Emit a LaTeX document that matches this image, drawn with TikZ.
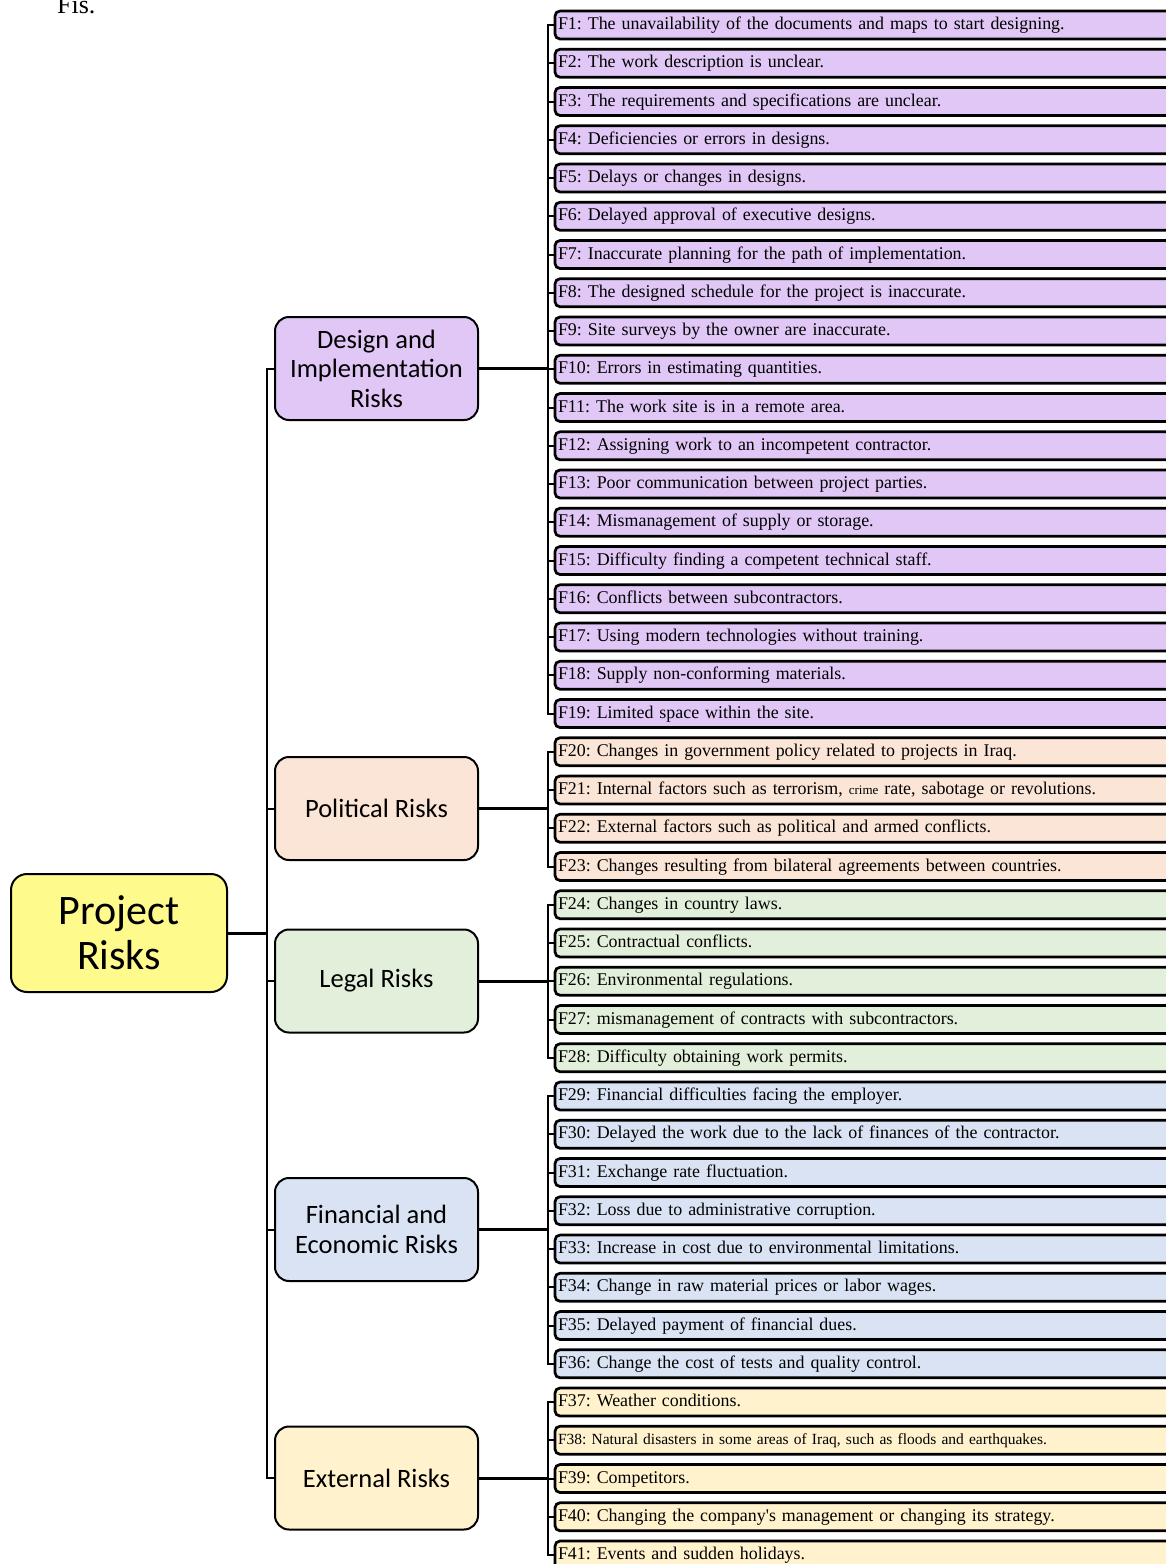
\documentclass[tikz,border=0pt]{standalone}
\usepackage{fontspec}
\setmainfont{Liberation Serif}
\newfontfamily\catfont{Carlito}
\usepackage{xcolor}
\usepackage{tikz}
\usetikzlibrary{positioning}
\definecolor{rootyellow}{RGB}{255,250,140}
\definecolor{designpurple}{RGB}{224,199,246}
\definecolor{politicalpeach}{RGB}{251,229,214}
\definecolor{legalgreen}{RGB}{226,239,218}
\definecolor{financeblue}{RGB}{218,227,243}
\definecolor{externalgold}{RGB}{255,242,204}
\tikzset{
  rootbox/.style={rectangle, draw, line width=2pt, rounded corners=16pt, fill=rootyellow, minimum width=216pt, minimum height=118pt, align=center, font=\catfont\fontsize{42}{45}\selectfont},
  groupbox/.style={rectangle, draw, line width=2pt, rounded corners=14pt, minimum width=203pt, minimum height=103pt, align=center, font=\catfont\fontsize{26.5}{29.5}\selectfont},
  leaf/.style={rectangle, draw, line width=2.7pt, rounded corners=5pt, text width=614pt, minimum height=28pt, inner xsep=3pt, inner ysep=0pt, outer sep=0pt, text height=13pt, text depth=4pt, align=left, font=\fontsize{17.9}{19}\selectfont},
  bus/.style={line width=2pt},
  link/.style={line width=3pt},
}

\begin{document}
\frenchspacing
\begin{tikzpicture}[x=1pt, y=-1pt]
    \useasboundingbox (0,0) rectangle (1165,1564);
    \node[anchor=base west, inner sep=0pt, font=\fontsize{26}{26}\selectfont] (fis) at (57,13) {Fis.};

    \node[rootbox] (root) at (119,933) {Project\\Risks};
    \node[groupbox, fill=designpurple] (design) at (376.5,368.5) {Design and\\Implementation\\Risks};
    \node[groupbox, fill=politicalpeach] (political) at (376.5,808.5) {Political Risks};
    \node[groupbox, fill=legalgreen] (legal) at (376.5,981) {Legal Risks};
    \node[groupbox, fill=financeblue] (financial) at (376.5,1229.5) {Financial and\\Economic Risks};
    \node[groupbox, fill=externalgold] (external) at (376.5,1478) {External Risks};

    \node[leaf, fill=designpurple, anchor=west] (f1) at (555,25) {F1: The unavailability of the documents and maps to start designing.};
    \node[leaf, fill=designpurple, below=10.25pt of f1] (f2) {F2: The work description is unclear.};
    \node[leaf, fill=designpurple, below=10.25pt of f2] (f3) {F3: The requirements and specifications are unclear.};
    \node[leaf, fill=designpurple, below=10.25pt of f3] (f4) {F4: Deficiencies or errors in designs.};
    \node[leaf, fill=designpurple, below=10.25pt of f4] (f5) {F5: Delays or changes in designs.};
    \node[leaf, fill=designpurple, below=10.25pt of f5] (f6) {F6: Delayed approval of executive designs.};
    \node[leaf, fill=designpurple, below=10.25pt of f6] (f7) {F7: Inaccurate planning for the path of implementation.};
    \node[leaf, fill=designpurple, below=10.25pt of f7] (f8) {F8: The designed schedule for the project is inaccurate.};
    \node[leaf, fill=designpurple, below=10.25pt of f8] (f9) {F9: Site surveys by the owner are inaccurate.};
    \node[leaf, fill=designpurple, below=10.25pt of f9] (f10) {F10: Errors in estimating quantities.};
    \node[leaf, fill=designpurple, below=10.25pt of f10] (f11) {F11: The work site is in a remote area.};
    \node[leaf, fill=designpurple, below=10.25pt of f11] (f12) {F12: Assigning work to an incompetent contractor.};
    \node[leaf, fill=designpurple, below=10.25pt of f12] (f13) {F13: Poor communication between project parties.};
    \node[leaf, fill=designpurple, below=10.25pt of f13] (f14) {F14: Mismanagement of supply or storage.};
    \node[leaf, fill=designpurple, below=10.25pt of f14] (f15) {F15: Difficulty finding a competent technical staff.};
    \node[leaf, fill=designpurple, below=10.25pt of f15] (f16) {F16: Conflicts between subcontractors.};
    \node[leaf, fill=designpurple, below=10.25pt of f16] (f17) {F17: Using modern technologies without training.};
    \node[leaf, fill=designpurple, below=10.25pt of f17] (f18) {F18: Supply non-conforming materials.};
    \node[leaf, fill=designpurple, below=10.25pt of f18] (f19) {F19: Limited space within the site.};

    \node[leaf, fill=politicalpeach, below=10.25pt of f19] (f20) {F20: Changes in government policy related to projects in Iraq.};
    \node[leaf, fill=politicalpeach, below=10.25pt of f20] (f21) {F21: Internal factors such as terrorism, {\fontsize{13}{13}\selectfont crime} rate, sabotage or revolutions.};
    \node[leaf, fill=politicalpeach, below=10.25pt of f21] (f22) {F22: External factors such as political and armed conflicts.};
    \node[leaf, fill=politicalpeach, below=10.25pt of f22] (f23) {F23: Changes resulting from bilateral agreements between countries.};

    \node[leaf, fill=legalgreen, below=10.25pt of f23] (f24) {F24: Changes in country laws.};
    \node[leaf, fill=legalgreen, below=10.25pt of f24] (f25) {F25: Contractual conflicts.};
    \node[leaf, fill=legalgreen, below=10.25pt of f25] (f26) {F26: Environmental regulations.};
    \node[leaf, fill=legalgreen, below=10.25pt of f26] (f27) {F27: mismanagement of contracts with subcontractors.};
    \node[leaf, fill=legalgreen, below=10.25pt of f27] (f28) {F28: Difficulty obtaining work permits.};

    \node[leaf, fill=financeblue, below=10.25pt of f28] (f29) {F29: Financial difficulties facing the employer.};
    \node[leaf, fill=financeblue, below=10.25pt of f29] (f30) {F30: Delayed the work due to the lack of finances of the contractor.};
    \node[leaf, fill=financeblue, below=10.25pt of f30] (f31) {F31: Exchange rate fluctuation.};
    \node[leaf, fill=financeblue, below=10.25pt of f31] (f32) {F32: Loss due to administrative corruption.};
    \node[leaf, fill=financeblue, below=10.25pt of f32] (f33) {F33: Increase in cost due to environmental limitations.};
    \node[leaf, fill=financeblue, below=10.25pt of f33] (f34) {F34: Change in raw material prices or labor wages.};
    \node[leaf, fill=financeblue, below=10.25pt of f34] (f35) {F35: Delayed payment of financial dues.};
    \node[leaf, fill=financeblue, below=10.25pt of f35] (f36) {F36: Change the cost of tests and quality control.};

    \node[leaf, fill=externalgold, below=10.25pt of f36] (f37) {F37: Weather conditions.};
    \node[leaf, fill=externalgold, below=10.25pt of f37, font=\fontsize{15.5}{17}\selectfont] (f38) {F38: Natural disasters in some areas of Iraq, such as floods and earthquakes.};
    \node[leaf, fill=externalgold, below=10.25pt of f38] (f39) {F39: Competitors.};
    \node[leaf, fill=externalgold, below=10.25pt of f39] (f40) {F40: Changing the company\textquotesingle s management or changing its strategy.};
    \node[leaf, fill=externalgold, below=10.25pt of f40] (f41) {F41: Events and sudden holidays.};

    \coordinate (rootbus) at (267,933);
    \draw[link] (root.east) -- (rootbus);
    \draw[bus] (design.west) -| (rootbus) |- (external.west);
    \foreach \g in {political, legal, financial}
        \draw[bus] (\g.west) -- (\g.west -| rootbus);

    \coordinate[xshift=-7pt] (dbus) at (design.east -| f1.west);
    \draw[link] (design.east) -- (dbus);
    \draw[bus] (f1.west) -| (dbus) |- (f19.west);
    \foreach \i in {2,...,18}
        \draw[bus] (f\i.west) -- (f\i.west -| dbus);

    \coordinate[xshift=-7pt] (pbus) at (political.east -| f1.west);
    \draw[link] (political.east) -- (pbus);
    \draw[bus] (f20.west) -| (pbus) |- (f23.west);
    \foreach \i in {21,22}
        \draw[bus] (f\i.west) -- (f\i.west -| pbus);

    \coordinate[xshift=-7pt] (lbus) at (legal.east -| f1.west);
    \draw[link] (legal.east) -- (lbus);
    \draw[bus] (f24.west) -| (lbus) |- (f28.west);
    \foreach \i in {25,...,27}
        \draw[bus] (f\i.west) -- (f\i.west -| lbus);

    \coordinate[xshift=-7pt] (fbus) at (financial.east -| f1.west);
    \draw[link] (financial.east) -- (fbus);
    \draw[bus] (f29.west) -| (fbus) |- (f36.west);
    \foreach \i in {30,...,35}
        \draw[bus] (f\i.west) -- (f\i.west -| fbus);

    \coordinate[xshift=-7pt] (ebus) at (external.east -| f1.west);
    \draw[link] (external.east) -- (ebus);
    \draw[bus] (f37.west) -| (ebus) |- (f41.west);
    \foreach \i in {38,...,40}
        \draw[bus] (f\i.west) -- (f\i.west -| ebus);
\end{tikzpicture}
\end{document}
